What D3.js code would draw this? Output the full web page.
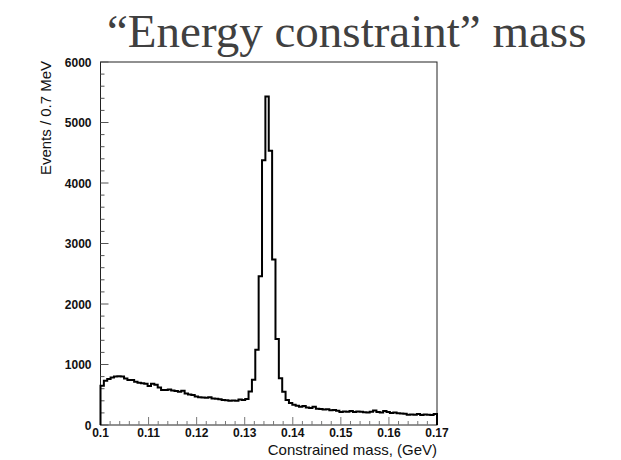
<!DOCTYPE html>
<html>
<head>
<meta charset="utf-8">
<script src="https://cdn.jsdelivr.net/npm/d3@7"></script>
<style>
  body { margin: 0; background: #fff; }
  svg { display: block; }
  .tick-label { font-family: "Liberation Sans", Arial, sans-serif; font-size: 12px; font-weight: bold; fill: #111; }
  .axis-title { font-family: "Liberation Sans", Arial, sans-serif; font-size: 15px; fill: #111; }
</style>
</head>
<body>
<div id="chart"></div>
<script>
// histogram: 100 bins of 0.7 MeV from 0.100 to 0.170 GeV
var binLow = 0.1;
var binWidth = 0.0007;
var counts = [
  647, 730, 760, 785, 800, 805, 800, 770, 745, 745,
  715, 700, 690, 680, 645, 680, 665, 620, 580, 580,
  585, 570, 560, 550, 565, 520, 505, 495, 470, 460,
  455, 450, 460, 440, 435, 425, 415, 410, 400, 405,
  400, 420, 415, 430, 552, 746, 1244, 2460, 4378, 5428,
  4532, 2736, 1420, 774, 550, 414, 365, 335, 320, 300,
  315, 290, 280, 300, 270, 265, 255, 260, 245, 250,
  235, 215, 225, 220, 230, 215, 225, 220, 210, 205,
  220, 240, 215, 205, 230, 215, 200, 205, 195, 190,
  185, 170, 175, 170, 180, 165, 175, 170, 165, 180
];
var xTicks = [0.1, 0.11, 0.12, 0.13, 0.14, 0.15, 0.16, 0.17];
var xTickLabels = ["0.1", "0.11", "0.12", "0.13", "0.14", "0.15", "0.16", "0.17"];
var yTicks = [0, 1000, 2000, 3000, 4000, 5000, 6000];
var yTickLabels = ["0", "1000", "2000", "3000", "4000", "5000", "6000"];

var width = 621, height = 460;
var plotL = 100.5, plotR = 437, plotT = 62, plotB = 425;

var svg = d3.select("#chart").append("svg")
  .attr("width", width)
  .attr("height", height);

var x = d3.scaleLinear().domain([0.1, 0.17]).range([plotL, plotR]);
var y = d3.scaleLinear().domain([0, 6000]).range([plotB, plotT]);

// title
svg.append("text")
  .attr("x", 107)
  .attr("y", 47)
  .attr("font-family", "'Liberation Serif', 'Times New Roman', serif")
  .attr("font-size", 47)
  .attr("fill", "#404040")
  .text("\u201cEnergy constraint\u201d mass");

// frame
svg.append("rect")
  .attr("x", plotL).attr("y", plotT)
  .attr("width", plotR - plotL).attr("height", plotB - plotT)
  .attr("fill", "none").attr("stroke", "#222").attr("stroke-width", 1);

// minor ticks
var yMinor = d3.range(0, 6001, 200).filter(function(d){ return d % 1000 != 0; });
var xMinor = d3.range(0, 36).map(function(i){ return 0.1 + i * 0.002; })
  .filter(function(d, i){ return i % 5 != 0; });

svg.selectAll(".ymin").data(yMinor).enter().append("line")
  .attr("x1", plotL).attr("x2", plotL + 4)
  .attr("y1", function(d){ return y(d); }).attr("y2", function(d){ return y(d); })
  .attr("stroke", "#555");
svg.selectAll(".ymaj").data(yTicks).enter().append("line")
  .attr("x1", plotL).attr("x2", plotL + 8)
  .attr("y1", function(d){ return y(d); }).attr("y2", function(d){ return y(d); })
  .attr("stroke", "#555");
svg.selectAll(".xmin").data(xMinor).enter().append("line")
  .attr("y1", plotB).attr("y2", plotB - 4)
  .attr("x1", function(d){ return x(d); }).attr("x2", function(d){ return x(d); })
  .attr("stroke", "#777");
svg.selectAll(".xmaj").data(xTicks).enter().append("line")
  .attr("y1", plotB).attr("y2", plotB - 8)
  .attr("x1", function(d){ return x(d); }).attr("x2", function(d){ return x(d); })
  .attr("stroke", "#777");

// tick labels
svg.selectAll(".ylab").data(yTicks).enter().append("text")
  .attr("class", "tick-label")
  .attr("x", plotL - 9)
  .attr("y", function(d){ return y(d) + 4.5; })
  .attr("text-anchor", "end")
  .text(function(d, i){ return yTickLabels[i]; });
svg.selectAll(".xlab").data(xTicks).enter().append("text")
  .attr("class", "tick-label")
  .attr("x", function(d){ return x(d); })
  .attr("y", plotB + 12)
  .attr("text-anchor", "middle")
  .text(function(d, i){ return xTickLabels[i]; });

// axis titles
svg.append("text")
  .attr("class", "axis-title")
  .attr("transform", "translate(51,118) rotate(-90)")
  .attr("text-anchor", "middle")
  .text("Events / 0.7 MeV");
svg.append("text")
  .attr("class", "axis-title")
  .attr("x", plotR)
  .attr("y", 455)
  .attr("text-anchor", "end")
  .text("Constrained mass, (GeV)");

// histogram outline
var pts = [[binLow, 0]];
counts.forEach(function(c, i){
  pts.push([binLow + i * binWidth, c]);
  pts.push([binLow + (i + 1) * binWidth, c]);
});
pts.push([binLow + counts.length * binWidth, 0]);

var line = d3.line()
  .x(function(d){ return x(d[0]); })
  .y(function(d){ return y(d[1]); });

svg.append("path")
  .attr("d", line(pts))
  .attr("fill", "none")
  .attr("stroke", "#000")
  .attr("stroke-width", 2)
  .attr("stroke-linejoin", "miter");
</script>
</body>
</html>
